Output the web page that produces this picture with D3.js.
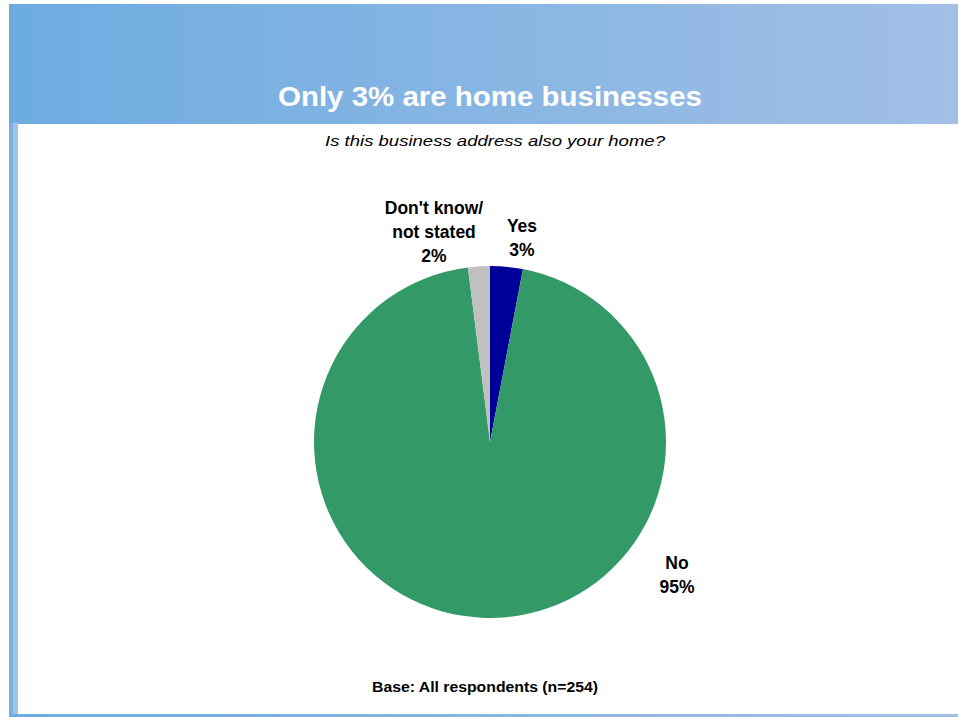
<!DOCTYPE html>
<html><head><meta charset="utf-8">
<script src="https://cdn.jsdelivr.net/npm/d3@7"></script>
<style>body{margin:0;background:#fff;}svg{display:block;}</style>
</head><body>
<svg id="c" width="958" height="717"></svg>
<script>
const categories = ["Yes", "No", "Don't know/\nnot stated"];
const values = [3, 95, 2];
const valueLabels = ["3%", "95%", "2%"];
const colors = ["#000099", "#339966", "#C0C0C0"];
const title = "Only 3% are home businesses";
const subtitle = "Is this business address also your home?";
const footnote = "Base: All respondents (n=254)";

const svg = d3.select("#c");
const defs = svg.append("defs");
const g = defs.append("linearGradient").attr("id","hdr").attr("x1","0").attr("x2","1").attr("y1","0").attr("y2","0");
g.append("stop").attr("offset","0").attr("stop-color","#6DACE0");
g.append("stop").attr("offset","1").attr("stop-color","#A2BFE6");

svg.append("rect").attr("x",9).attr("y",4).attr("width",949).attr("height",120).attr("fill","url(#hdr)");
svg.append("rect").attr("x",9).attr("y",123).attr("width",4).attr("height",594).attr("fill","#78B0E2");
svg.append("rect").attr("x",13).attr("y",123).attr("width",5).attr("height",594).attr("fill","#A3C0E8");
svg.append("rect").attr("x",9).attr("y",714).attr("width",949).attr("height",3).attr("fill","url(#hdr)");

svg.append("text").attr("x",490).attr("y",106).attr("text-anchor","middle")
  .attr("font-family","Liberation Sans, Arial, sans-serif").attr("font-weight","bold")
  .attr("font-size",27).attr("fill","#fff")
  .attr("textLength",424).attr("lengthAdjust","spacingAndGlyphs").text(title);
svg.append("text").attr("x",495).attr("y",146).attr("text-anchor","middle")
  .attr("font-family","Liberation Sans, Arial, sans-serif").attr("font-style","italic")
  .attr("font-size",15.5).attr("fill","#000")
  .attr("textLength",340).attr("lengthAdjust","spacingAndGlyphs").text(subtitle);
svg.append("text").attr("x",485).attr("y",692).attr("text-anchor","middle")
  .attr("font-family","Liberation Sans, Arial, sans-serif").attr("font-weight","bold")
  .attr("font-size",14).attr("fill","#000")
  .attr("textLength",226).attr("lengthAdjust","spacingAndGlyphs").text(footnote);

const cx = 490, cy = 442, r = 176;
const pie = d3.pie().sort(null).value(d => d);
const arcs = pie(values);
const arc = d3.arc().innerRadius(0).outerRadius(r);
const pg = svg.append("g").attr("transform",`translate(${cx},${cy})`);
pg.selectAll("path").data(arcs).join("path").attr("d",arc).attr("fill",(d,i)=>colors[i]);

const labelPos = [[32, -210], [187, 127], [-56, -228]];
const lg = svg.append("g").attr("font-family","Liberation Sans, Arial, sans-serif")
  .attr("font-weight","bold").attr("font-size",17.5).attr("fill","#000").attr("text-anchor","middle");
categories.forEach((c,i) => {
  const lines = c.split("\n").concat([valueLabels[i]]);
  const t = lg.append("text").attr("x",cx+labelPos[i][0]).attr("y",cy+labelPos[i][1]);
  lines.forEach((l,j) => t.append("tspan").attr("x",cx+labelPos[i][0]).attr("dy", j===0?0:24).text(l));
});
</script>
</body></html>
